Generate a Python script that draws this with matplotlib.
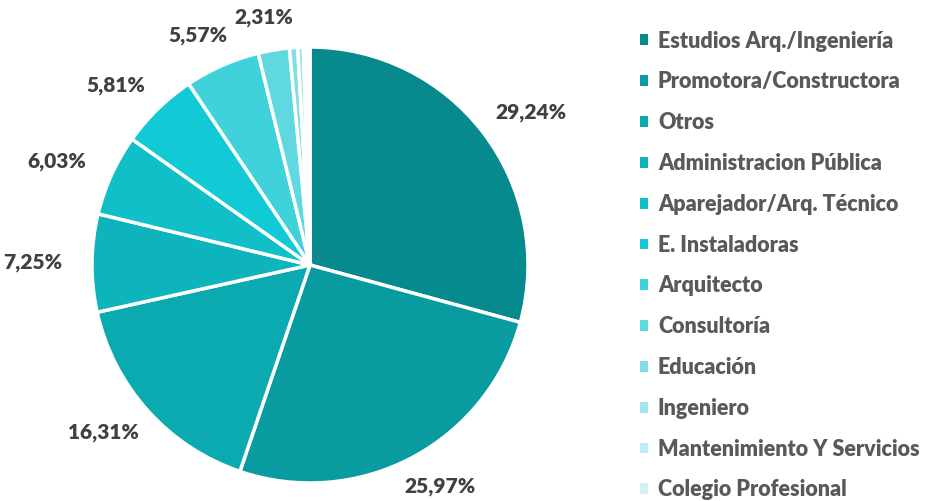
import numpy as np
import matplotlib
matplotlib.use("Agg")
import matplotlib.pyplot as plt

categories = ["Estudios Arq./Ingeniería", "Promotora/Constructora", "Otros",
              "Administracion Pública", "Aparejador/Arq. Técnico", "E. Instaladoras",
              "Arquitecto", "Consultoría", "Educación", "Ingeniero",
              "Mantenimiento Y Servicios", "Colegio Profesional"]
values = [29.24, 25.97, 16.31, 7.25, 6.03, 5.81, 5.57, 2.31, 0.61, 0.42, 0.28, 0.20]
labels = ["29,24%", "25,97%", "16,31%", "7,25%", "6,03%", "5,81%", "5,57%", "2,31%",
          "", "", "", ""]
colors = ["#078A8E", "#089B9F", "#0BA9B0", "#0DB4BC", "#10BFC8", "#12CAD5",
          "#3FD2DB", "#5FD8E0", "#80DEE5", "#A0E6EB", "#BEEDF1", "#D4F2F5"]

plt.rcParams['font.family'] = ['Lato', 'DejaVu Sans']

W, H = 927, 501
fig = plt.figure(figsize=(W / 100, H / 100), dpi=100)
cx, cy, R = 310, 265, 218
ax = fig.add_axes([(cx - R) / W, (H - cy - R) / H, 2 * R / W, 2 * R / H])

wedges, _ = ax.pie(values, colors=colors, startangle=90, counterclock=False,
                   wedgeprops=dict(edgecolor="white", linewidth=2.5))
ax.set_xlim(-1, 1)
ax.set_ylim(-1, 1)
ax.set_aspect("equal")

tw, th = 76, 22
for w, lab in zip(wedges, labels):
    if not lab:
        continue
    ang = np.deg2rad((w.theta1 + w.theta2) / 2)
    c, s = np.cos(ang), np.sin(ang)
    ax.annotate(lab, xy=(1.1 * c, 1.1 * s), xytext=(tw / 2 * c, th / 2 * s),
                textcoords="offset pixels", ha="center", va="center",
                fontsize=15, fontweight="heavy", color="#404040",
                annotation_clip=False)

leg = fig.legend(wedges, categories, loc="upper left",
                 bbox_to_anchor=(631 / W, 1 - 22 / H), frameon=False,
                 fontsize=15.5, labelspacing=0.92, handlelength=0.4,
                 handleheight=0.4, handletextpad=0.45, borderaxespad=0)
for t in leg.get_texts():
    t.set_color("#595959")
    t.set_fontweight("heavy")
for p in leg.get_patches():
    p.set_linewidth(0)

fig.savefig("out.png", dpi=100)
